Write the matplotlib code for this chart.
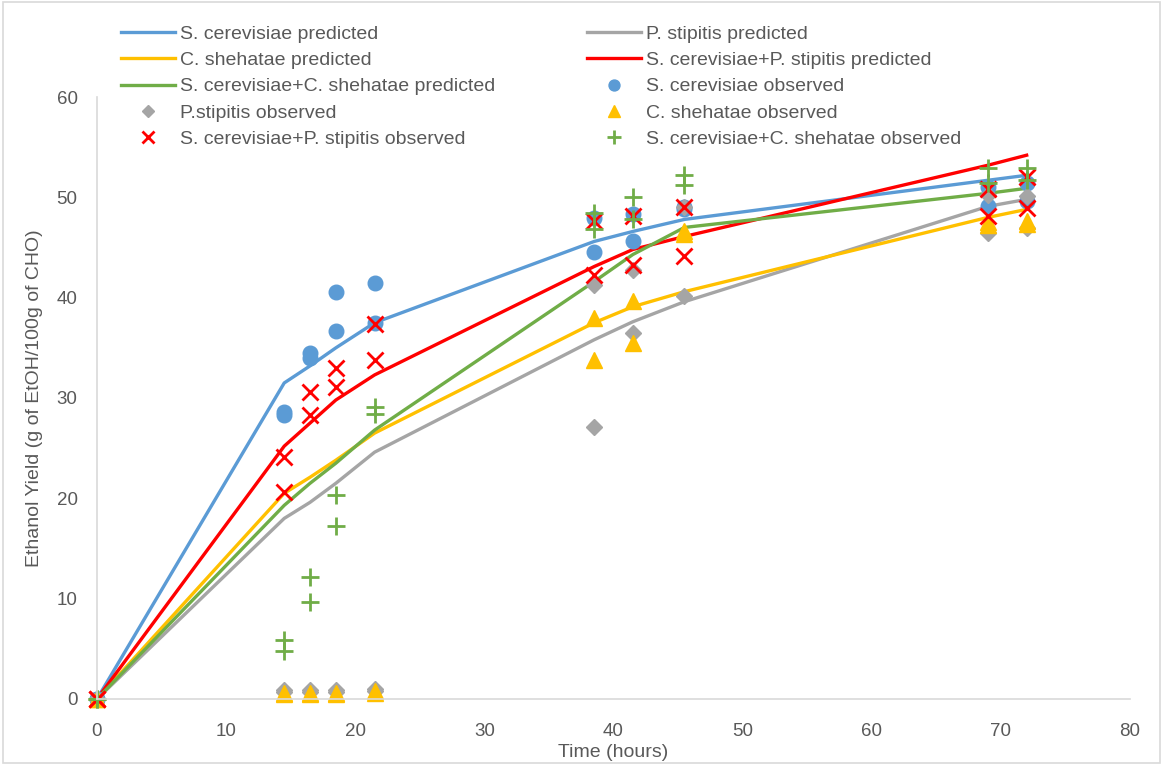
import matplotlib
matplotlib.use('Agg')
from matplotlib import pyplot as plt
from matplotlib.patches import Rectangle

# tempos (horas)
t_pred = [0, 14.5, 16.5, 18.5, 21.5, 38.5, 41.5, 45.5, 69, 72]
t_obs = [0, 14.5, 16.5, 18.5, 21.5, 38.5, 41.5, 45.5, 69, 72]

# curvas previstas
sc_pred = [0, 31.5, 33.2, 35.0, 37.5, 45.6, 46.6, 47.8, 51.7, 52.2]
ps_pred = [0, 18.0, 19.6, 21.5, 24.6, 35.8, 37.6, 39.6, 49.1, 49.8]
cs_pred = [0, 20.5, 22.1, 23.8, 26.5, 37.5, 39.1, 40.6, 48.0, 48.8]
scps_pred = [0, 25.2, 27.5, 29.8, 32.3, 43.1, 44.8, 46.1, 53.2, 54.2]
sccs_pred = [0, 19.3, 21.5, 23.5, 26.8, 41.6, 44.3, 47.0, 50.4, 50.9]

# observados (duas replicatas)
sc_obs_a = [0, 28.6, 34.5, 40.6, 41.5, 47.9, 48.3, 49.0, 51.0, 51.4]
sc_obs_b = [0, 28.3, 34.0, 36.7, 37.5, 44.6, 45.6, 48.8, 49.1, 49.6]
ps_obs_a = [0, 0.9, 0.9, 0.9, 1.0, 41.3, 42.8, 49.0, 50.2, 50.1]
ps_obs_b = [0, 0.7, 0.7, 0.7, 0.8, 27.1, 36.5, 40.2, 46.4, 46.9]
cs_obs_a = [0, 0.6, 0.6, 0.6, 0.8, 38.0, 39.7, 46.6, 47.5, 47.6]
cs_obs_b = [0, 0.5, 0.5, 0.5, 0.6, 33.8, 35.5, 46.3, 47.2, 47.3]
scps_obs_a = [0, 24.1, 30.6, 33.0, 37.4, 47.6, 48.1, 49.0, 50.8, 52.0]
scps_obs_b = [0, 20.6, 28.3, 31.1, 33.8, 42.3, 43.3, 44.2, 48.1, 48.9]
sccs_obs_a = [0, 5.9, 12.2, 20.3, 29.1, 48.4, 50.0, 52.2, 52.9, 52.9]
sccs_obs_b = [0, 4.8, 9.7, 17.2, 28.4, 46.8, 47.8, 51.2, 51.4, 51.7]

azul = '#5B9BD5'
cinza = '#A5A5A5'
amarelo = '#FFC000'
vermelho = '#FF0000'
verde = '#70AD47'
texto = '#595959'

plt.rcParams['font.family'] = ['Liberation Sans', 'DejaVu Sans']

fig = plt.figure(figsize=(11.63, 7.65), dpi=100)
ax = fig.add_axes([0.0834, 0.0863, 0.8882, 0.7869])

# linhas previstas
l1, = ax.plot(t_pred, sc_pred, color=azul, lw=2.4, label='S. cerevisiae predicted')
l2, = ax.plot(t_pred, ps_pred, color=cinza, lw=2.4, label='P. stipitis predicted')
l3, = ax.plot(t_pred, cs_pred, color=amarelo, lw=2.4, label='C. shehatae predicted')
l4, = ax.plot(t_pred, scps_pred, color=vermelho, lw=2.4, label='S. cerevisiae+P. stipitis predicted')
l5, = ax.plot(t_pred, sccs_pred, color=verde, lw=2.4, label='S. cerevisiae+C. shehatae predicted')

# pontos observados
def pontos(a, b, **kw):
    h, = ax.plot(t_obs + t_obs, a + b, ls='none', clip_on=False, **kw)
    return h

m1 = pontos(sc_obs_a, sc_obs_b, marker='o', ms=10.5, color=azul, mec=azul,
            label='S. cerevisiae observed')
m2 = pontos(ps_obs_a, ps_obs_b, marker='D', ms=8, color=cinza, mec=cinza,
            label='P.stipitis observed')
m3 = pontos(cs_obs_a, cs_obs_b, marker='^', ms=11, color=amarelo, mec=amarelo,
            label='C. shehatae observed')
m4 = pontos(scps_obs_a, scps_obs_b, marker='x', ms=11, mew=2, color=vermelho,
            label='S. cerevisiae+P. stipitis observed')
m5 = pontos(sccs_obs_a, sccs_obs_b, marker='+', ms=13, mew=2, color=verde,
            label='S. cerevisiae+C. shehatae observed')

ax.set_xlim(0, 80)
ax.set_ylim(0, 60)
ax.set_xticks(range(0, 81, 10))
ax.set_yticks(range(0, 61, 10))
for s in ['top', 'right']:
    ax.spines[s].set_visible(False)
for s in ['left', 'bottom']:
    ax.spines[s].set_color('#D9D9D9')
    ax.spines[s].set_linewidth(1.2)
ax.tick_params(length=0, labelsize=13.5, colors=texto)
ax.tick_params(axis='x', pad=17)
ax.tick_params(axis='y', pad=14)

ax.set_xlabel('Time (hours)', fontsize=14, color=texto, labelpad=3)
ax.set_ylabel('Ethanol Yield (g of EtOH/100g of CHO)', fontsize=14, color=texto, labelpad=10)

# legenda em duas colunas (preenchida por coluna)
handles = [l1, l3, l5, m2, m4, l2, l4, m1, m3, m5]
leg = fig.legend(handles=handles, labels=[h.get_label() for h in handles],
                 ncol=2, loc='upper left', bbox_to_anchor=(0.089, 0.99),
                 frameon=False, fontsize=14, labelcolor=texto,
                 handlelength=2.8, handletextpad=0.25, columnspacing=4.7,
                 labelspacing=0.45, markerscale=0.75)

# moldura do gráfico
fig.patches.append(Rectangle((0.003, 0.003), 0.994, 0.994, transform=fig.transFigure,
                             fill=False, edgecolor='#D9D9D9', lw=1.2))

fig.savefig('out.png', dpi=100)
